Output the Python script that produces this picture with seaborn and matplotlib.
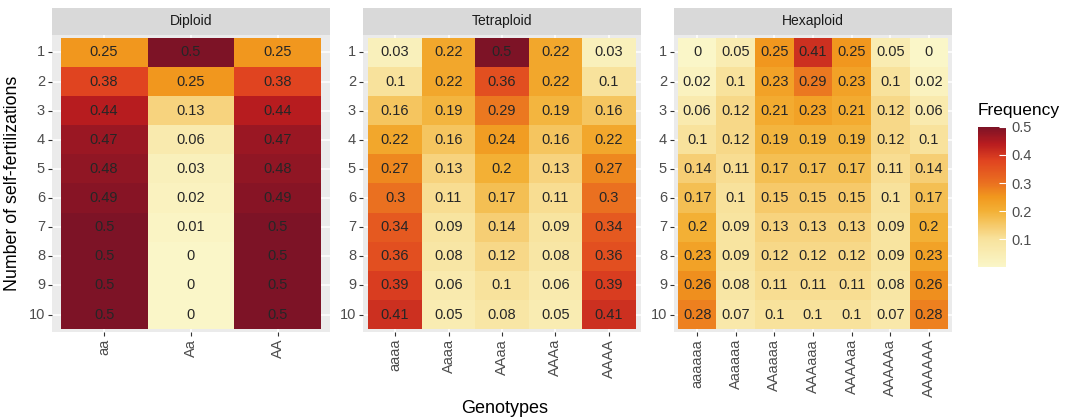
import numpy as np
import pandas as pd
import matplotlib
matplotlib.use("Agg")
import matplotlib.pyplot as plt
from matplotlib.colors import LinearSegmentedColormap
import seaborn as sns

plt.rcParams['font.family'] = ['Liberation Sans', 'DejaVu Sans']

######################################################
# Data
generations = [1, 2, 3, 4, 5, 6, 7, 8, 9, 10]

diploid_genotypes = ['aa', 'Aa', 'AA']
diploid_freq = [
    [0.25, 0.5, 0.25],
    [0.38, 0.25, 0.38],
    [0.44, 0.13, 0.44],
    [0.47, 0.06, 0.47],
    [0.48, 0.03, 0.48],
    [0.49, 0.02, 0.49],
    [0.5, 0.01, 0.5],
    [0.5, 0, 0.5],
    [0.5, 0, 0.5],
    [0.5, 0, 0.5],
]

tetraploid_genotypes = ['aaaa', 'Aaaa', 'AAaa', 'AAAa', 'AAAA']
tetraploid_freq = [
    [0.03, 0.22, 0.5, 0.22, 0.03],
    [0.1, 0.22, 0.36, 0.22, 0.1],
    [0.16, 0.19, 0.29, 0.19, 0.16],
    [0.22, 0.16, 0.24, 0.16, 0.22],
    [0.27, 0.13, 0.2, 0.13, 0.27],
    [0.3, 0.11, 0.17, 0.11, 0.3],
    [0.34, 0.09, 0.14, 0.09, 0.34],
    [0.36, 0.08, 0.12, 0.08, 0.36],
    [0.39, 0.06, 0.1, 0.06, 0.39],
    [0.41, 0.05, 0.08, 0.05, 0.41],
]

hexaploid_genotypes = ['aaaaaa', 'Aaaaaa', 'AAaaaa', 'AAAaaa', 'AAAAaa', 'AAAAAa', 'AAAAAA']
hexaploid_freq = [
    [0, 0.05, 0.25, 0.41, 0.25, 0.05, 0],
    [0.02, 0.1, 0.23, 0.29, 0.23, 0.1, 0.02],
    [0.06, 0.12, 0.21, 0.23, 0.21, 0.12, 0.06],
    [0.1, 0.12, 0.19, 0.19, 0.19, 0.12, 0.1],
    [0.14, 0.11, 0.17, 0.17, 0.17, 0.11, 0.14],
    [0.17, 0.1, 0.15, 0.15, 0.15, 0.1, 0.17],
    [0.2, 0.09, 0.13, 0.13, 0.13, 0.09, 0.2],
    [0.23, 0.09, 0.12, 0.12, 0.12, 0.09, 0.23],
    [0.26, 0.08, 0.11, 0.11, 0.11, 0.08, 0.26],
    [0.28, 0.07, 0.1, 0.1, 0.1, 0.07, 0.28],
]

panels = [
    ('Diploid', diploid_genotypes, diploid_freq),
    ('Tetraploid', tetraploid_genotypes, tetraploid_freq),
    ('Hexaploid', hexaploid_genotypes, hexaploid_freq),
]

# colour scale (0 -> 0.5)
stops = [(0.0, '#FAF6C8'), (0.2, '#F8E29C'), (0.4, '#F3B035'), (0.5, '#F1981E'),
         (0.6, '#EA7020'), (0.76, '#E04420'), (0.88, '#B81C1F'), (1.0, '#7D1326')]
cmap = LinearSegmentedColormap.from_list('freq', stops)

W, H = 1069, 419
fig = plt.figure(figsize=(W / 100, H / 100), dpi=100)

panel_left = [52, 363, 674]
panel_w = 278
panel_top, panel_bot = 35, 332
strip_top = 8

cax = fig.add_axes([978 / W, 1 - 267 / H, 28 / W, 140 / H])

for i, (name, genos, freq) in enumerate(panels):
    ax = fig.add_axes([panel_left[i] / W, 1 - panel_bot / H, panel_w / W, (panel_bot - panel_top) / H])
    df = pd.DataFrame(freq, index=generations, columns=genos)
    labels = df.map(lambda v: f'{v:g}')
    last = i == len(panels) - 1
    sns.heatmap(df, ax=ax, cmap=cmap, vmin=0, vmax=0.5, annot=labels, fmt='',
                annot_kws={'color': '#262626', 'fontsize': 10.5},
                cbar=last, cbar_ax=cax if last else None)
    n = len(genos)
    ax.set_facecolor('#EBEBEB')
    ax.set_xlim(-0.1, n + 0.1)
    ax.set_ylim(len(generations) + 0.1, -0.1)
    ax.set_axisbelow(True)
    ax.grid(True, color='white', lw=1.1)
    ax.set_xlabel('')
    ax.set_ylabel('')
    ax.set_xticklabels(genos, rotation=90)
    ax.set_yticklabels(generations, rotation=0)
    ax.tick_params(length=3, width=0.8, color='#333333', labelcolor='#4D4D4D',
                   labelsize=10.5, pad=2)
    for s in ax.spines.values():
        s.set_visible(False)

    # facet strip
    sax = fig.add_axes([panel_left[i] / W, 1 - panel_top / H, panel_w / W, (panel_top - strip_top) / H])
    sax.set_facecolor('#D9D9D9')
    sax.set_xticks([])
    sax.set_yticks([])
    for s in sax.spines.values():
        s.set_visible(False)
    sax.text(0.5, 0.5, name, ha='center', va='center', fontsize=10, color='#1A1A1A',
             transform=sax.transAxes)

cax.set_yticks([0.1, 0.2, 0.3, 0.4, 0.5])
cax.set_yticklabels(['0.1', '0.2', '0.3', '0.4', '0.5'])
cax.tick_params(direction='in', color='white', length=5, width=0.8,
                labelcolor='#4D4D4D', labelsize=10.5, pad=4)
cax.set_ylim(0, 0.5)
for s in cax.spines.values():
    s.set_visible(False)

fig.text(978 / W, 1 - 110 / H, 'Frequency', ha='left', va='center', fontsize=12.5, color='black')
fig.text(505 / W, 1 - 408 / H, 'Genotypes', ha='center', va='center', fontsize=13, color='black')
fig.text(13 / W, 1 - 183 / H, 'Number of self-fertilizations', ha='center', va='center',
         rotation=90, fontsize=12.8, color='black')

fig.savefig('out.png', dpi=100)
